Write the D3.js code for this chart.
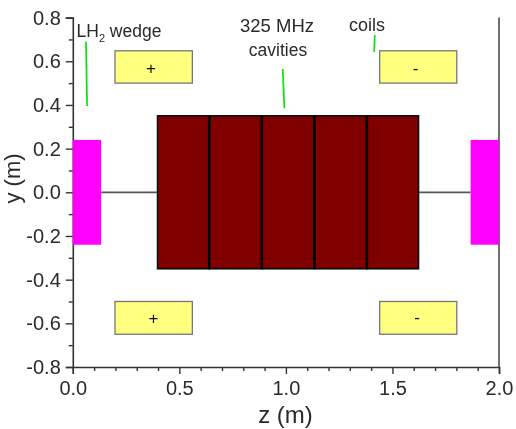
<!DOCTYPE html>
<html>
<head>
<meta charset="utf-8">
<script src="https://cdnjs.cloudflare.com/ajax/libs/d3/7.8.5/d3.min.js"></script>
<style>
  html, body { margin: 0; padding: 0; background: #fff; }
  svg { display: block; }
  text { font-family: "Liberation Sans", Arial, sans-serif; fill: #2a2a2a; }
</style>
</head>
<body>
<script>
// data, in metres
const zTicks = [0, 0.5, 1, 1.5, 2];
const zMinorTicks = [0.1, 0.2, 0.3, 0.4, 0.6, 0.7, 0.8, 0.9, 1.1, 1.2, 1.3, 1.4, 1.6, 1.7, 1.8, 1.9];
const yTicks = [0.8, 0.6, 0.4, 0.2, 0, -0.2, -0.4, -0.6, -0.8];
const yMinorTicks = [0.7, 0.5, 0.3, 0.1, -0.1, -0.3, -0.5, -0.7];

const cavityEdges = [0.398, 0.64, 0.887, 1.134, 1.38, 1.622];
const cavityHalfHeight = 0.35;

const wedgeRanges = [[0, 0.133], [1.867, 2]];
const wedgeHalfHeight = 0.24;

const coilZ = [[0.198, 0.561], [1.44, 1.802], [0.198, 0.561], [1.44, 1.802]];
const coilY = [[0.5, 0.648], [0.5, 0.648], [-0.65, -0.5], [-0.65, -0.5]];
const coilSigns = ["+", "-", "+", "-"];
const coilSignZ = [0.367, 1.608, 0.378, 1.616];
const coilSignY = [0.567, 0.571, -0.578, -0.57];

const beamLines = [[0.133, 0.4], [1.625, 1.867]];

const leaderZ = [[0.062, 0.067], [0.985, 0.993], [1.417, 1.414]];
const leaderY = [[0.69, 0.395], [0.565, 0.385], [0.72, 0.643]];

const largeur = 516;
const hauteur = 429;

const x = d3.scaleLinear().domain([0, 2]).range([72.8, 499]);
const y = d3.scaleLinear().domain([-0.8, 0.8]).range([367, 17.6]);

// the source picture is a slightly soft raster
const svg = d3.select("body").append("svg")
    .attr("width", largeur)
    .attr("height", hauteur);
svg.append("filter").attr("id", "doux")
    .append("feGaussianBlur").attr("stdDeviation", 0.45);
const canevas = svg.append("g").attr("filter", "url(#doux)");

const gris = "#555";
const tiret = d => d3.format(".1f")(d).replace("\u2212", "-");

// beam pipe
canevas.selectAll("line.beam")
    .data(beamLines)
    .enter().append("line")
    .attr("class", "beam")
    .attr("x1", d => x(d[0]))
    .attr("x2", d => x(d[1]))
    .attr("y1", y(0))
    .attr("y2", y(0))
    .attr("stroke", gris)
    .attr("stroke-width", 1.7);

// right hand frame line
canevas.append("line")
    .attr("x1", x(2))
    .attr("x2", x(2))
    .attr("y1", y(0.8))
    .attr("y2", y(-0.8))
    .attr("stroke", gris)
    .attr("stroke-width", 1.7);

// axes
const axeX = canevas.append("g")
    .attr("transform", `translate(0, ${y(-0.8)})`)
    .call(d3.axisBottom(x).tickValues(zTicks).tickFormat(tiret).tickSize(7).tickPadding(7));
axeX.selectAll("text").style("font-size", "20px");

const axeXMinor = canevas.append("g")
    .attr("transform", `translate(0, ${y(-0.8)})`)
    .call(d3.axisBottom(x).tickValues(zMinorTicks).tickFormat("").tickSize(4).tickSizeOuter(0));
axeXMinor.select(".domain").remove();

const axeY = canevas.append("g")
    .attr("transform", `translate(${x(0)}, 0)`)
    .call(d3.axisLeft(y).tickValues(yTicks).tickFormat(tiret).tickSize(7).tickPadding(5));
axeY.selectAll("text").style("font-size", "20px");

const axeYMinor = canevas.append("g")
    .attr("transform", `translate(${x(0)}, 0)`)
    .call(d3.axisLeft(y).tickValues(yMinorTicks).tickFormat("").tickSize(4).tickSizeOuter(0));
axeYMinor.select(".domain").remove();

[axeX, axeXMinor, axeY, axeYMinor].forEach(g => {
    g.selectAll("line").attr("stroke", "#333").attr("stroke-width", 1.4);
    g.selectAll("path").attr("stroke", "#333").attr("stroke-width", 1.6);
});

// LH2 wedges
canevas.selectAll("rect.wedge")
    .data(wedgeRanges)
    .enter().append("rect")
    .attr("class", "wedge")
    .attr("x", d => x(d[0]))
    .attr("width", d => x(d[1]) - x(d[0]))
    .attr("y", y(wedgeHalfHeight))
    .attr("height", y(-wedgeHalfHeight) - y(wedgeHalfHeight))
    .attr("fill", "#ff00ff");

// cavities
canevas.selectAll("rect.cavity")
    .data(d3.pairs(cavityEdges))
    .enter().append("rect")
    .attr("class", "cavity")
    .attr("x", d => x(d[0]))
    .attr("width", d => x(d[1]) - x(d[0]))
    .attr("y", y(cavityHalfHeight))
    .attr("height", y(-cavityHalfHeight) - y(cavityHalfHeight))
    .attr("fill", "#800000")
    .attr("stroke", "#111")
    .attr("stroke-width", 1.7);

// inner walls are heavier than the outline
canevas.selectAll("line.wall")
    .data(cavityEdges.slice(1, -1))
    .enter().append("line")
    .attr("class", "wall")
    .attr("x1", d => x(d))
    .attr("x2", d => x(d))
    .attr("y1", y(cavityHalfHeight))
    .attr("y2", y(-cavityHalfHeight))
    .attr("stroke", "#000")
    .attr("stroke-width", 2.6);

// coils
canevas.selectAll("rect.coil")
    .data(coilSigns)
    .enter().append("rect")
    .attr("class", "coil")
    .attr("x", (d, i) => x(coilZ[i][0]))
    .attr("width", (d, i) => x(coilZ[i][1]) - x(coilZ[i][0]))
    .attr("y", (d, i) => y(coilY[i][1]))
    .attr("height", (d, i) => y(coilY[i][0]) - y(coilY[i][1]))
    .attr("fill", "#ffff80")
    .attr("stroke", "#777")
    .attr("stroke-width", 1.3);

canevas.selectAll("text.sign")
    .data(coilSigns)
    .enter().append("text")
    .attr("class", "sign")
    .attr("x", (d, i) => x(coilSignZ[i]))
    .attr("y", (d, i) => y(coilSignY[i]))
    .attr("text-anchor", "middle")
    .attr("dy", "0.35em")
    .style("font-size", "17px")
    .style("fill", "#111")
    .text(d => d);

// green leader lines
canevas.selectAll("line.leader")
    .data(leaderZ)
    .enter().append("line")
    .attr("class", "leader")
    .attr("x1", d => x(d[0]))
    .attr("x2", d => x(d[1]))
    .attr("y1", (d, i) => y(leaderY[i][0]))
    .attr("y2", (d, i) => y(leaderY[i][1]))
    .attr("stroke", "#00e800")
    .attr("stroke-width", 1.7);

// annotations
const lh2 = canevas.append("text")
    .attr("x", 76.5)
    .attr("y", 37)
    .style("font-size", "17.5px");
lh2.append("tspan").text("LH");
lh2.append("tspan").attr("dy", 5).style("font-size", "11px").text("2");
lh2.append("tspan").attr("dy", -5).text(" wedge");

canevas.append("text")
    .attr("x", 277).attr("y", 32)
    .attr("text-anchor", "middle")
    .style("font-size", "18.5px")
    .text("325 MHz");
canevas.append("text")
    .attr("x", 278).attr("y", 56)
    .attr("text-anchor", "middle")
    .style("font-size", "17.5px")
    .text("cavities");
canevas.append("text")
    .attr("x", 367).attr("y", 30.5)
    .attr("text-anchor", "middle")
    .style("font-size", "18px")
    .text("coils");

// axis titles
canevas.append("text")
    .attr("x", 285.5).attr("y", 423)
    .attr("text-anchor", "middle")
    .style("font-size", "24px")
    .text("z (m)");
canevas.append("text")
    .attr("transform", "translate(20, 178.5) rotate(-90)")
    .attr("text-anchor", "middle")
    .style("font-size", "22px")
    .text("y (m)");
</script>
</body>
</html>
